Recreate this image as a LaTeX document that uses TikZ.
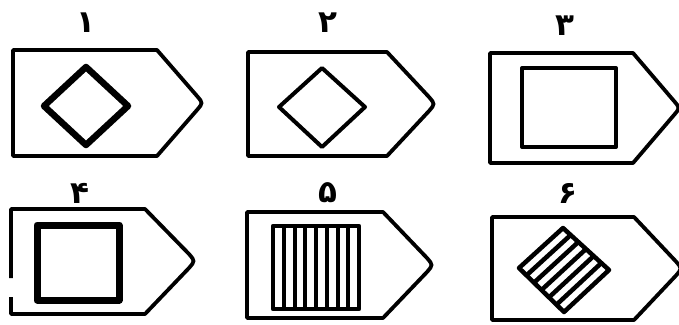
\documentclass[tikz,border=0pt]{standalone}
\usepackage{fontspec}
\newfontfamily\digitfont[Script=Arabic]{DejaVu Sans}
\usepackage{tikz}
\usetikzlibrary{calc}

\tikzset{
  plate/.style={line width=3.8pt, line join=round},
  inner/.style={line width=#1, line join=round},
  num/.style={font=\digitfont\bfseries\fontsize{31}{31}\selectfont, inner sep=0pt}
}

\begin{document}
\begin{tikzpicture}[x=1pt, y=-1pt]
    \clip (0,0) rectangle (679,324);
    \fill[white] (0,0) rectangle (679,324);

    \foreach \x/\y/\r/\t/\h in {13/50/144/190/106, 248/52/139/187/104, 490/53/143/190/110, 247/212/136/186/106, 492/217/142/190/103} {
        \draw[plate] (\x,\y) -- (\x+\r,\y) -- (\x+\t-6,\y+\h/2-7)
            .. controls (\x+\t,\y+\h/2) .. (\x+\t-6,\y+\h/2+7)
            -- (\x+\r,\y+\h) -- (\x,\y+\h) -- cycle;
    }
    \draw[plate] (11,297) -- (11,314) -- (145,314) -- (189,268)
        .. controls (195,261) .. (189,254) -- (145,209) -- (11,209) -- (11,278);

    \foreach \i/\lx/\ly/\d in {1/86/23/۱, 2/328/23/۲, 3/565/26/۳, 4/80/193/۴, 5/328/193/۵, 6/568/193/۶} {
        \node[num] (num\i) at (\lx,\ly) {\d};
    }

    \draw[inner=6.5pt] (44,106) -- (86,67) -- (128,106) -- (86,145) -- cycle;
    \draw[inner=4pt] (279,107) -- (322,68) -- (365,107) -- (322,147) -- cycle;
    \draw[inner=4pt] (522,68) rectangle (616,147);
    \draw[inner=7pt] (37,225) rectangle (119,300);

    \draw[inner=4.5pt] (273,226) rectangle (359,309);
    \foreach \k in {1,...,7} {
        \draw[line width=4pt] (273+\k*10.75,226) -- (273+\k*10.75,309);
    }

    \coordinate (dl) at (519,268);
    \coordinate (dt) at (563,228);
    \coordinate (dr) at (609,270);
    \coordinate (db) at (564,312);
    \draw[inner=4.5pt] (dl) -- (dt) -- (dr) -- (db) -- cycle;
    \foreach \k in {1,...,5} {
        \draw[line width=4.5pt] ($(dl)!\k/6!(db)$) -- ($(dt)!\k/6!(dr)$);
    }
\end{tikzpicture}
\end{document}
